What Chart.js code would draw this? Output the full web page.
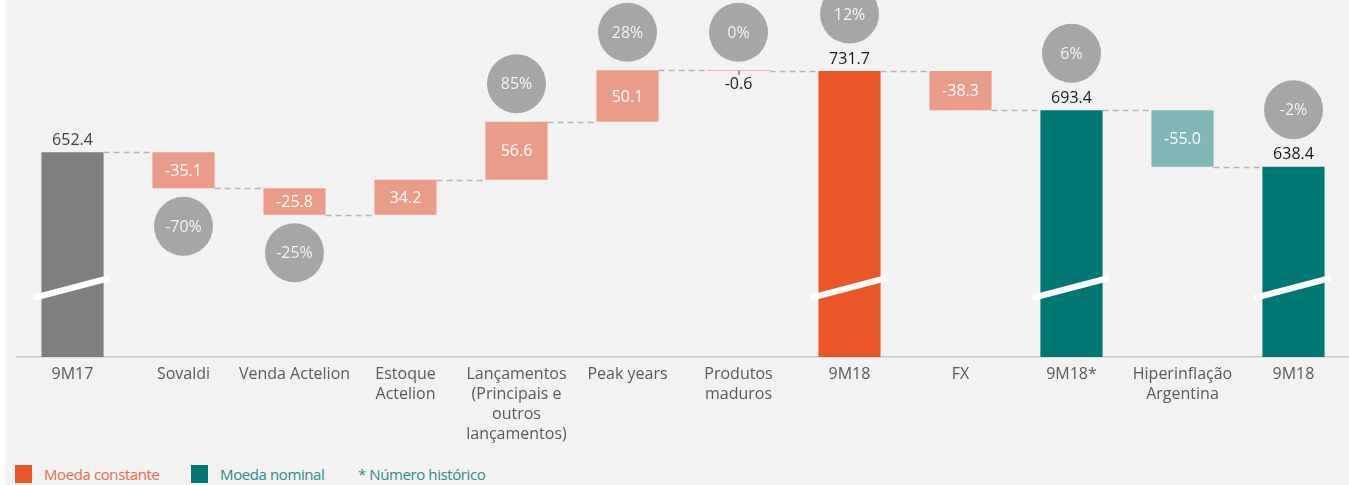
<!DOCTYPE html>
<html lang="pt">
<head>
  <meta charset="UTF-8" />
  <title>Ponte de receita 9M17 - 9M18</title>
  <script src="https://cdn.jsdelivr.net/npm/chart.js"></script>
  <style>
    * {
      box-sizing: border-box;
      font-family: 'Open Sans', sans-serif;
    }

    body {
      margin: 0;
      background: #fff;
    }

    .painel {
      position: absolute;
      left: 5px;
      top: 0;
      width: 1344px;
      height: 485px;
      background: #f2f2f2;
      overflow: hidden;
    }

    .grafico {
      position: absolute;
      left: 0;
      top: 0;
      width: 1344px;
      height: 460px;
    }

    .legenda {
      position: absolute;
      left: 10px;
      top: 462px;
      font-size: 15px;
      letter-spacing: -0.4px;
      white-space: nowrap;
    }

    .legenda span {
      display: inline-block;
      vertical-align: middle;
    }

    .quadrado {
      width: 17px;
      height: 18px;
      margin-right: 12px;
    }
  </style>
</head>
<body>
  <div class="painel">
    <div class="grafico"><canvas id="ponte"></canvas></div>
    <div class="legenda">
      <span class="quadrado" style="background:#eb5629"></span><span style="color:#f0694a;margin-right:28px">Moeda constante</span>
      <span class="quadrado" style="background:#007773"></span><span style="color:#2a8e8a;margin-right:30px">Moeda nominal</span>
      <span style="color:#2a8e8a">* Número histórico</span>
    </div>
  </div>

  <script>
    const categorias = ['9M17', 'Sovaldi', 'Venda Actelion', ['Estoque', 'Actelion'],
      ['Lançamentos', '(Principais e', 'outros', 'lançamentos)'], 'Peak years',
      ['Produtos', 'maduros'], '9M18', 'FX', '9M18*', ['Hiperinflação', 'Argentina'], '9M18'];
    const valores = [652.4, -35.1, -25.8, 34.2, 56.6, 50.1, -0.6, 731.7, -38.3, 693.4, -55.0, 638.4];
    const totais = [true, false, false, false, false, false, false, true, false, true, false, true];
    const variacoes = [null, '-70%', '-25%', null, '85%', '28%', '0%', '12%', null, '6%', null, '-2%'];

    const cores = ['#7f7f7f', '#ea9c89', '#ea9c89', '#ea9c89', '#ea9c89', '#ea9c89', '#ea9c89',
      '#eb5629', '#ea9c89', '#007773', '#80b8b7', '#007773'];

    const eixoMin = 452.7;
    const eixoMax = 801;
    const corte = 520; // onde fica o traço de quebra nas barras de total

    // barras flutuantes da cascata
    let acumulado = 0;
    const faixas = valores.map((v, i) => {
      if (totais[i]) {
        acumulado = v;
        return [eixoMin, v];
      }
      const ini = acumulado;
      acumulado = +(acumulado + v).toFixed(1);
      return [ini, acumulado];
    });
    const fimDe = i => totais[i] ? valores[i] : faixas[i][1];

    const fmt = v => v.toFixed(1);

    const extras = {
      id: 'extras',
      afterDatasetsDraw(chart) {
        const ctx = chart.ctx;
        const y = chart.scales.y;
        const barras = chart.getDatasetMeta(0).data;

        ctx.save();

        // linhas tracejadas entre as barras
        ctx.strokeStyle = '#b5b5b5';
        ctx.lineWidth = 1.5;
        ctx.setLineDash([6, 4]);
        for (let i = 0; i < barras.length - 1; i++) {
          const a = barras[i], b = barras[i + 1];
          const py = Math.round(y.getPixelForValue(fimDe(i))) + 0.5;
          ctx.beginPath();
          ctx.moveTo(a.x + a.width / 2, py);
          ctx.lineTo(b.x - b.width / 2, py);
          ctx.stroke();
        }
        ctx.setLineDash([]);

        // quebra de eixo nas barras de total
        ctx.strokeStyle = '#ffffff';
        ctx.lineWidth = 6;
        const pc = y.getPixelForValue(corte);
        barras.forEach((b, i) => {
          if (!totais[i]) return;
          ctx.beginPath();
          ctx.moveTo(b.x - b.width / 2 - 8, pc + 10);
          ctx.lineTo(b.x + b.width / 2 + 6, pc - 10);
          ctx.stroke();
        });

        ctx.textAlign = 'center';
        ctx.textBaseline = 'middle';

        barras.forEach((b, i) => {
          const topo = Math.min(b.y, b.base);
          const fundo = Math.max(b.y, b.base);
          let cy;

          if (totais[i]) {
            ctx.fillStyle = i === 0 ? '#404040' : '#1a1a1a';
            ctx.font = '16px "Open Sans"';
            ctx.fillText(fmt(valores[i]), b.x, topo - 12);
            cy = topo - 57;
          } else if (fundo - topo < 16) {
            // barra muito fina: rótulo por baixo
            ctx.strokeStyle = '#333';
            ctx.lineWidth = 1;
            ctx.beginPath();
            ctx.moveTo(b.x + 0.5, fundo);
            ctx.lineTo(b.x + 0.5, fundo + 4);
            ctx.stroke();
            ctx.fillStyle = '#1a1a1a';
            ctx.font = '16px "Open Sans"';
            ctx.fillText(fmt(valores[i]), b.x, fundo + 14);
            cy = topo - 38;
          } else {
            ctx.fillStyle = '#ffffff';
            ctx.font = '16px "Open Sans"';
            ctx.fillText(fmt(valores[i]), b.x, (topo + fundo) / 2 + 1);
            cy = valores[i] < 0 ? fundo + 38 : topo - 38;
          }

          if (variacoes[i]) {
            ctx.fillStyle = '#a6a6a6';
            ctx.beginPath();
            ctx.arc(b.x, cy, 29.5, 0, Math.PI * 2);
            ctx.fill();
            ctx.fillStyle = '#f4f4f4';
            ctx.font = '16px "Open Sans"';
            ctx.fillText(variacoes[i], b.x, cy + 1);
          }
        });

        ctx.restore();
      }
    };

    new Chart(document.getElementById('ponte'), {
      type: 'bar',
      data: {
        labels: categorias,
        datasets: [{
          data: faixas,
          backgroundColor: cores,
          borderWidth: 0,
          categoryPercentage: 1,
          barPercentage: 0.56,
          borderSkipped: false
        }]
      },
      options: {
        responsive: true,
        maintainAspectRatio: false,
        animation: false,
        layout: { padding: { left: 12, top: 0, right: 0, bottom: 0 } },
        plugins: {
          legend: { display: false },
          tooltip: { enabled: false }
        },
        scales: {
          x: {
            grid: { display: false, drawTicks: false },
            border: { display: true, color: '#c8c8c8', width: 1.5 },
            ticks: {
              color: '#595959',
              font: { family: 'Open Sans', size: 16, lineHeight: 1.25 },
              padding: 7,
              maxRotation: 0,
              autoSkip: false
            },
            afterFit: s => { s.height = 103; }
          },
          y: {
            display: false,
            min: eixoMin,
            max: eixoMax
          }
        }
      },
      plugins: [extras]
    });
  </script>
</body>
</html>
